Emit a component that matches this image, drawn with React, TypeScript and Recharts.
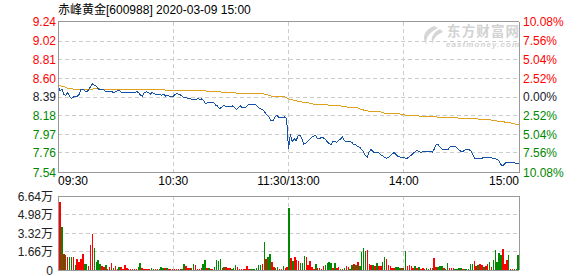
import React from 'react';
import {
  LineChart,
  Line,
  XAxis,
  YAxis,
  CartesianGrid,
  ReferenceLine,
  BarChart,
  Bar,
  Cell,
} from 'recharts';

const title = '赤峰黄金[600988] 2020-03-09 15:00';

const priceTicks = [7.54, 7.76, 7.97, 8.18, 8.39, 8.6, 8.81, 9.02, 9.24];
const priceTickLabels = ['7.54', '7.76', '7.97', '8.18', '8.39', '8.60', '8.81', '9.02', '9.24'];
const pctTickLabels = ['10.08%', '7.56%', '5.04%', '2.52%', '0.00%', '2.52%', '5.04%', '7.56%', '10.08%'];
const priceTickTrend = [-1, -1, -1, -1, 0, 1, 1, 1, 1];

const timeTickIdx = [0, 60, 120, 180, 240];
const timeTickLabels = ['09:30', '10:30', '11:30/13:00', '14:00', '15:00'];

const volTicks = [0, 1.66, 3.32, 4.98, 6.64];
const volTickLabels = ['0', '1.66万', '3.32万', '4.98万', '6.64万'];

const price = [
  8.52, 8.46, 8.48, 8.42, 8.41, 8.44, 8.40, 8.37, 8.39, 8.40,
  8.40, 8.42, 8.48, 8.48, 8.46, 8.45, 8.47, 8.51, 8.54, 8.52,
  8.51, 8.48, 8.47, 8.48, 8.47, 8.45, 8.45, 8.45, 8.45, 8.44,
  8.45, 8.46, 8.46, 8.44, 8.44, 8.44, 8.44, 8.44, 8.44, 8.44,
  8.44, 8.45, 8.44, 8.41, 8.40, 8.44, 8.45, 8.44, 8.42, 8.44,
  8.43, 8.42, 8.42, 8.42, 8.41, 8.42, 8.40, 8.41, 8.40, 8.40,
  8.40, 8.42, 8.43, 8.42, 8.41, 8.39, 8.38, 8.38, 8.375, 8.37,
  8.36, 8.36, 8.365, 8.37, 8.36, 8.37, 8.345, 8.31, 8.33, 8.33,
  8.33, 8.33, 8.30, 8.29, 8.26, 8.27, 8.29, 8.29, 8.28, 8.28,
  8.28, 8.29, 8.27, 8.25, 8.27, 8.29, 8.27, 8.27, 8.28, 8.30,
  8.30, 8.30, 8.30, 8.30, 8.28, 8.26, 8.25, 8.24, 8.21, 8.18,
  8.16, 8.12, 8.125, 8.17, 8.18, 8.16, 8.155, 8.16, 8.165, 8.15,
  7.81, 7.97, 7.886, 7.92, 7.90, 7.95, 7.96, 7.92, 7.86, 7.87,
  7.89, 7.916, 7.935, 7.95, 7.96, 7.92, 7.925, 7.93, 7.93, 7.92,
  7.89, 7.87, 7.85, 7.885, 7.89, 7.88, 7.90, 7.916, 7.94, 7.90,
  7.89, 7.89, 7.89, 7.88, 7.85, 7.85, 7.834, 7.826, 7.80, 7.774,
  7.73, 7.71, 7.774, 7.80, 7.774, 7.76, 7.76, 7.76, 7.74, 7.73,
  7.71, 7.70, 7.707, 7.73, 7.75, 7.766, 7.74, 7.72, 7.714, 7.714,
  7.707, 7.70, 7.703, 7.72, 7.737, 7.76, 7.774, 7.79, 7.774, 7.763,
  7.774, 7.778, 7.778, 7.778, 7.774, 7.77, 7.81, 7.86, 7.852, 7.82,
  7.804, 7.804, 7.804, 7.796, 7.826, 7.837, 7.837, 7.83, 7.81, 7.79,
  7.774, 7.78, 7.796, 7.796, 7.796, 7.78, 7.74, 7.70, 7.692, 7.70,
  7.695, 7.703, 7.71, 7.71, 7.707, 7.707, 7.703, 7.70, 7.692, 7.684,
  7.655, 7.617, 7.625, 7.647, 7.655, 7.655, 7.651, 7.647, 7.647, 7.64, 7.636,
];

const avgPrice = [
  8.53, 8.52, 8.51, 8.505, 8.50, 8.49, 8.49, 8.485, 8.48, 8.478,
  8.475, 8.47, 8.47, 8.47, 8.47, 8.47, 8.472, 8.476, 8.48, 8.482,
  8.482, 8.482, 8.48, 8.48, 8.478, 8.478, 8.478, 8.476, 8.476, 8.476,
  8.476, 8.476, 8.476, 8.476, 8.476, 8.476, 8.476, 8.476, 8.476, 8.476,
  8.476, 8.476, 8.476, 8.475, 8.475, 8.475, 8.474, 8.474, 8.474, 8.474,
  8.474, 8.472, 8.472, 8.47, 8.47, 8.47, 8.468, 8.466, 8.464, 8.464,
  8.464, 8.464, 8.464, 8.464, 8.464, 8.464, 8.464, 8.464, 8.464, 8.464,
  8.464, 8.464, 8.464, 8.464, 8.464, 8.464, 8.46, 8.457, 8.457, 8.457,
  8.457, 8.457, 8.457, 8.457, 8.452, 8.446, 8.446, 8.446, 8.446, 8.446,
  8.446, 8.446, 8.44, 8.431, 8.431, 8.431, 8.431, 8.431, 8.431, 8.431,
  8.431, 8.431, 8.431, 8.431, 8.431, 8.431, 8.431, 8.426, 8.42, 8.415,
  8.41, 8.40, 8.394, 8.394, 8.394, 8.394, 8.394, 8.394, 8.392, 8.38,
  8.368, 8.364, 8.358, 8.352, 8.346, 8.341, 8.338, 8.334, 8.33, 8.326,
  8.326, 8.322, 8.315, 8.311, 8.311, 8.311, 8.311, 8.311, 8.311, 8.31,
  8.304, 8.297, 8.289, 8.289, 8.289, 8.289, 8.289, 8.289, 8.286, 8.282,
  8.282, 8.274, 8.274, 8.274, 8.274, 8.267, 8.267, 8.259, 8.244, 8.244,
  8.237, 8.237, 8.229, 8.229, 8.229, 8.222, 8.222, 8.222, 8.222, 8.214,
  8.207, 8.207, 8.20, 8.20, 8.20, 8.20, 8.20, 8.20, 8.20, 8.192,
  8.192, 8.185, 8.185, 8.185, 8.177, 8.177, 8.177, 8.177, 8.177, 8.168,
  8.168, 8.168, 8.168, 8.168, 8.168, 8.168, 8.168, 8.168, 8.158, 8.158,
  8.158, 8.158, 8.158, 8.158, 8.158, 8.158, 8.158, 8.158, 8.158, 8.147,
  8.147, 8.147, 8.147, 8.147, 8.147, 8.147, 8.147, 8.147, 8.147, 8.14,
  8.14, 8.14, 8.14, 8.14, 8.14, 8.14, 8.125, 8.125, 8.125, 8.114,
  8.114, 8.114, 8.114, 8.102, 8.102, 8.102, 8.095, 8.095, 8.084, 8.084, 8.08,
];

// volume in 万 (10k shares)
const volume = [
  6.10, 3.86, 1.40, 1.32, 1.17, 1.17, 1.17, 1.17, 0.45, 1.00,
  0.72, 1.00, 1.40, 0.54, 0.54, 0.36, 2.24, 3.23, 1.97, 0.72,
  0.90, 0.54, 0.36, 0.27, 0.45, 0.12, 0.24, 0.60, 0.18, 0.36,
  0.12, 0.24, 0.24, 0.12, 0.42, 0.18, 0.09, 0.09, 0.09, 0.09,
  0.09, 0.24, 0.63, 0.15, 0.09, 0.09, 0.09, 0.09, 0.18, 0.09,
  0.09, 0.09, 0.09, 0.27, 0.21, 0.21, 0.21, 0.09, 0.09, 0.09,
  0.09, 0.09, 0.09, 0.09, 0.09, 0.54, 0.36, 0.18, 0.18, 0.18,
  0.54, 0.45, 0.09, 0.09, 0.18, 0.54, 0.90, 0.18, 0.18, 0.09,
  0.09, 0.30, 0.90, 0.84, 0.99, 0.18, 0.27, 0.27, 0.18, 0.18,
  0.09, 0.18, 0.45, 0.27, 0.09, 0.09, 0.09, 0.09, 0.36, 0.09,
  0.09, 0.09, 0.09, 0.18, 0.45, 0.45, 0.54, 2.51, 0.99, 1.17,
  1.44, 0.72, 0.27, 0.18, 0.27, 0.09, 0.09, 0.36, 0.15, 0.27,
  5.56, 1.08, 0.81, 1.17, 0.90, 0.81, 0.63, 0.63, 1.26, 1.17,
  0.45, 0.81, 0.27, 0.09, 0.54, 0.18, 0.18, 0.09, 0.36, 0.45,
  0.63, 0.72, 0.63, 0.18, 0.63, 0.18, 0.27, 0.09, 0.09, 0.18,
  0.36, 0.27, 0.09, 0.45, 0.54, 0.45, 0.72, 0.36, 1.61, 1.97,
  1.70, 1.79, 0.54, 0.45, 0.45, 0.36, 0.63, 0.36, 0.36, 0.72,
  1.17, 0.96, 0.45, 0.36, 0.18, 0.18, 0.27, 0.27, 0.18, 0.18,
  0.18, 1.70, 0.36, 0.45, 0.36, 0.18, 0.36, 0.18, 0.27, 0.09,
  0.18, 0.09, 0.18, 0.09, 0.18, 0.18, 1.08, 0.27, 0.27, 0.36,
  0.36, 0.18, 0.09, 0.63, 0.18, 0.18, 0.18, 0.09, 0.09, 0.18,
  0.18, 0.09, 0.09, 0.09, 0.09, 0.54, 0.54, 0.81, 0.36, 0.45,
  0.54, 0.45, 0.27, 0.36, 0.54, 0.72, 0.27, 0.90, 1.79, 0.72,
  1.55, 1.35, 1.88, 0.54, 0.90, 1.35, 0.09, 0.05, 0.05, 0.05, 1.35,
];

// 1 = up (red), 0 = down (green)
const volUp = [
  1, 0, 1, 0, 1, 0, 0, 1, 0, 1,
  1, 1, 1, 0, 0, 1, 1, 1, 0, 0,
  0, 0, 1, 1, 0, 1, 1, 1, 0, 1,
  1, 0, 1, 1, 1, 1, 1, 1, 1, 1,
  1, 0, 0, 1, 1, 1, 1, 1, 0, 0,
  1, 1, 0, 0, 0, 1, 0, 1, 1, 1,
  1, 1, 1, 1, 0, 0, 1, 1, 1, 0,
  0, 1, 1, 1, 1, 0, 0, 1, 0, 1,
  1, 0, 0, 0, 0, 1, 0, 1, 1, 1,
  0, 0, 0, 1, 1, 1, 1, 1, 1, 1,
  0, 0, 0, 0, 0, 0, 1, 0, 1, 0,
  0, 1, 1, 0, 0, 1, 1, 0, 1, 1,
  0, 1, 0, 1, 1, 1, 0, 0, 0, 1,
  1, 1, 1, 1, 0, 1, 1, 1, 1, 0,
  0, 0, 0, 1, 0, 1, 1, 0, 1, 0,
  1, 1, 0, 0, 1, 0, 1, 0, 0, 0,
  0, 1, 1, 1, 0, 1, 0, 1, 1, 0,
  0, 1, 1, 1, 1, 1, 0, 0, 0, 1,
  0, 0, 1, 1, 1, 1, 0, 1, 0, 1,
  1, 1, 0, 0, 1, 0, 1, 1, 0, 0,
  0, 1, 0, 0, 1, 1, 1, 0, 0, 0,
  0, 1, 0, 0, 0, 0, 0, 1, 1, 0,
  1, 1, 0, 1, 1, 0, 1, 0, 0, 0,
  0, 0, 1, 1, 1, 0, 1, 1, 0, 0, 0,
];

const data = price.map((p, i) => ({ i, p, a: avgPrice[i], v: volume[i], up: volUp[i] }));

const RED = '#ff0000';
const GREEN = '#008800';
const DARK = '#1a1a2e';
const BORDER = '#999999';
const GRID = '#cccccc';
const FONT = "'Liberation Sans', Arial, 'Noto Sans CJK SC', sans-serif";

const trendColor = (t: number) => (t > 0 ? RED : t < 0 ? GREEN : DARK);

const LeftPriceTick = (props: any) => {
  const { x, y, payload } = props;
  const k = priceTicks.indexOf(payload.value);
  return (
    <text x={x - 2} y={y} dy={4.3} textAnchor="end" fontSize={12} fontFamily={FONT} fill={trendColor(priceTickTrend[k])}>
      {priceTickLabels[k]}
    </text>
  );
};

const RightPctTick = (props: any) => {
  const { x, y, payload } = props;
  const k = priceTicks.indexOf(payload.value);
  return (
    <text x={x + 4} y={y} dy={4.3} textAnchor="start" fontSize={12} fontFamily={FONT} fill={trendColor(priceTickTrend[k])}>
      {pctTickLabels[k]}
    </text>
  );
};

const TimeTick = (props: any) => {
  const { x, y, payload } = props;
  const k = timeTickIdx.indexOf(payload.value);
  const anchor = k === 0 ? 'start' : k === timeTickIdx.length - 1 ? 'end' : 'middle';
  return (
    <text x={x} y={y} dy={12.5} textAnchor={anchor} fontSize={12} fontFamily={FONT} fill="#000">
      {timeTickLabels[k]}
    </text>
  );
};

const VolTick = (props: any) => {
  const { x, y, payload } = props;
  const k = volTicks.indexOf(payload.value);
  return (
    <text x={x - 5} y={y} dy={4.5} textAnchor="end" fontSize={12} fontFamily={FONT} fill="#222">
      {volTickLabels[k]}
    </text>
  );
};

export default function App() {
  return (
    <div
      style={{
        position: 'absolute',
        left: 0,
        top: 0,
        width: 578,
        height: 276,
        background: '#fff',
        overflow: 'hidden',
        shapeRendering: 'crispEdges',
      }}
    >
      <div style={{ position: 'absolute', left: 0, top: 0 }}>
        <LineChart width={578} height={190} data={data} margin={{ top: 21.5, right: 0, bottom: 2.5, left: 0 }}>
          <CartesianGrid yAxisId="l" stroke={GRID} strokeDasharray="4 3" />
          <XAxis
            dataKey="i"
            type="number"
            domain={[0, 240]}
            allowDataOverflow
            ticks={timeTickIdx}
            interval={0}
            tick={<TimeTick />}
            tickLine={false}
            tickSize={0}
            tickMargin={0}
            height={15}
            axisLine={{ stroke: BORDER }}
          />
          <YAxis
            yAxisId="l"
            domain={[7.54, 9.24]}
            allowDataOverflow
            ticks={priceTicks}
            interval={0}
            tick={<LeftPriceTick />}
            tickLine={false}
            tickSize={0}
            tickMargin={0}
            width={58}
            axisLine={{ stroke: BORDER }}
          />
          <YAxis
            yAxisId="r"
            orientation="right"
            domain={[7.54, 9.24]}
            allowDataOverflow
            ticks={priceTicks}
            interval={0}
            tick={<RightPctTick />}
            tickLine={false}
            tickSize={0}
            tickMargin={0}
            width={59}
            axisLine={{ stroke: BORDER }}
          />
          <ReferenceLine yAxisId="l" y={9.24} stroke={BORDER} />
          <Line yAxisId="l" dataKey="a" stroke="#e0a020" strokeWidth={1} dot={false} isAnimationActive={false} />
          <Line yAxisId="r" dataKey="p" stroke="#1552a6" strokeWidth={1} dot={false} isAnimationActive={false} />
        </LineChart>
      </div>
      <div style={{ position: 'absolute', left: 0, top: 180 }}>
        <BarChart width={578} height={96} data={data} margin={{ top: 16, right: 59, bottom: 6, left: 0 }}>
          <CartesianGrid xAxisId="t" stroke={GRID} strokeDasharray="4 3" />
          <XAxis xAxisId="t" dataKey="i" type="number" domain={[0, 240]} ticks={timeTickIdx} allowDataOverflow hide />
          <XAxis xAxisId="b" dataKey="i" type="number" domain={[-1.15, 240.3]} allowDataOverflow hide />
          <YAxis
            domain={[0, 6.64]}
            allowDataOverflow
            ticks={volTicks}
            interval={0}
            tick={<VolTick />}
            tickLine={false}
            tickSize={0}
            tickMargin={0}
            width={58}
            axisLine={{ stroke: BORDER }}
          />
          <Bar xAxisId="b" dataKey="v" barSize={1.5} isAnimationActive={false}>
            {data.map((d) => (
              <Cell key={d.i} fill={d.up ? RED : GREEN} />
            ))}
          </Bar>
          <ReferenceLine xAxisId="t" y={6.64} stroke={BORDER} />
          <ReferenceLine xAxisId="t" y={0} stroke={BORDER} />
          <ReferenceLine xAxisId="t" x={240} stroke={BORDER} />
        </BarChart>
      </div>
      <svg
        width={578}
        height={276}
        style={{ position: 'absolute', left: 0, top: 0, pointerEvents: 'none', shapeRendering: 'auto' }}
      >
        <text x={58} y={13.5} fontSize={12} fontFamily={FONT} fill="#000">
          {title}
        </text>
        <path d="M434 26 C424 30 421 38 427 45 C425 39 428 33 438 28 Z" fill="#d6d6d6" />
        <path d="M440 29 C432 33 430 39 433 44 C433 39 436 35 443 32 Z" fill="#d6d6d6" />
        <text x={447} y={35.5} fontSize={13.5} fontWeight="bold" fontFamily="'Noto Sans CJK SC', sans-serif" fill="#d2d2d2" textLength={72}>
          东方财富网
        </text>
        <text x={446} y={47} fontSize={8} fontWeight="bold" fontStyle="italic" fontFamily={FONT} fill="#d2d2d2" textLength={73}>
          eastmoney.com
        </text>
      </svg>
    </div>
  );
}
